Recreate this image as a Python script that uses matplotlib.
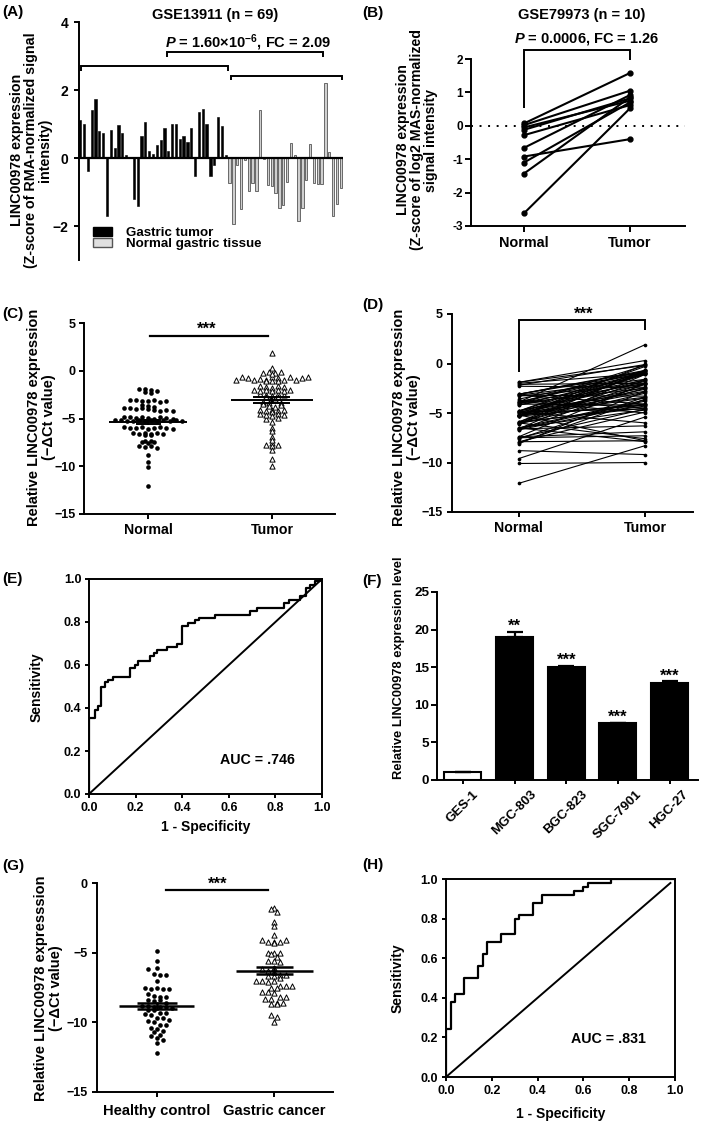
import numpy as np
import matplotlib
matplotlib.use('Agg')
import matplotlib.pyplot as plt
from matplotlib.patches import Patch
from matplotlib.ticker import FormatStrFormatter

plt.rcParams['font.family'] = ['Liberation Sans', 'DejaVu Sans']
plt.rcParams['font.weight'] = 'bold'
plt.rcParams['axes.labelweight'] = 'bold'
plt.rcParams['mathtext.fontset'] = 'custom'
plt.rcParams['mathtext.rm'] = 'Liberation Sans:bold'
plt.rcParams['mathtext.it'] = 'Liberation Sans:bold:italic'
plt.rcParams['mathtext.bf'] = 'Liberation Sans:bold'
plt.rcParams['axes.linewidth'] = 1.4
plt.rcParams['xtick.major.width'] = 1.4
plt.rcParams['ytick.major.width'] = 1.4
plt.rcParams['xtick.major.size'] = 3.5
plt.rcParams['ytick.major.size'] = 3.5
plt.rcParams['xtick.major.pad'] = 3
plt.rcParams['ytick.major.pad'] = 2.5

# ---------------- data ----------------
# (A) GSE13911 z-scores
a_tumor = [1.11, 1.00, -0.39, 1.40, 1.74, 0.79, 0.73, -1.72, 0.83, 0.29, 0.97, 0.75, 0.10,
           0.02, -1.22, -1.42, 0.66, 1.06, 0.20, 0.12, 0.37, 0.52, 0.87, 0.20,
           1.00, 1.00, 0.57, 0.64, 0.46, 0.87, -0.52, 1.34, 1.43, 1.00,
           -0.54, -0.20, 1.20, 0.95, 0.08]
a_normal = [-0.73, -1.93, -0.20, -1.50, -0.05, -0.98, -0.73, -0.98, 1.41, -0.02,
            -0.78, -0.83, -1.02, -1.47, -1.39, -0.72, 0.44, 0.09, -1.85, -1.46,
            -0.64, 0.41, -0.73, -0.75, -0.75, 2.20, 0.17, -1.70, -1.34, -0.88]

# (B) GSE79973 paired z-scores
b_normal = [0.07, 0.02, -0.05, -0.12, -0.28, -0.66, -0.92, -1.10, -1.43, -2.62]
b_tumor = [1.58, 1.05, 0.75, 0.82, 0.62, 0.92, -0.40, 0.70, 0.85, 0.52]

# (C)/(D) paired -dCt values (normal, tumor)
c_normal = [-1.9, -1.9, -2.0, -2.1,
            -2.2, -2.3,
            -3.1, -3.1, -3.2, -3.2, -3.1, -3.3, -3.2,
            -3.6, -3.7,
            -3.9, -3.9, -4.0, -3.9, -3.8, -4.0,
            -4.1, -4.2, -4.1, -4.2,
            -4.8, -4.8, -4.9, -4.8, -4.9, -5.0, -4.8, -4.9, -5.0,
            -5.2, -5.2, -5.3, -5.3, -5.2, -5.3, -5.2, -5.3, -5.2, -5.3, -5.2, -5.3,
            -5.9, -6.0, -6.0, -5.9, -6.1, -6.0, -5.9, -6.0, -6.1,
            -6.5, -6.6, -6.5, -6.6, -6.7, -6.5, -6.6, -6.7,
            -7.4, -7.5, -7.4, -7.6, -7.5,
            -7.9, -8.0, -7.9, -8.1,
            -8.8, -9.6, -10.1, -12.1]
c_tumor = [0.3, -0.2, -1.0, -2.0,
           -0.1, -2.4,
           -0.7, -0.8, -1.6, -4.1, -1.0, -2.1, -3.3,
           -0.9, -4.5,
           1.9, -1.0, -2.5, -0.7, -5.0, -1.7,
           -0.2, -2.0, -4.2, -1.1,
           -0.3, -1.8, -2.8, -0.8, -4.6, -1.0, -2.1, -6.0, -3.4,
           -0.7, -1.1, -2.9, -4.1, -1.6, -2.6, -7.8, -0.1, -3.5, -4.2, -2.4, -1.0,
           -0.8, -2.0, -4.3, -1.7, -3.0, -7.6, -4.5, -2.5, -0.7,
           -3.7, -1.1, -4.7, -6.3, -2.1, -7.9, -3.8, -4.1,
           -2.0, -4.6, -6.9, -3.4, -7.3,
           -4.9, -3.6, -7.8, -2.8,
           -9.2, -5.4, -10.0, -8.3]

# (E) ROC tissue
e_fpr = [0.0, 0.0, 0.024, 0.039, 0.053, 0.067, 0.082, 0.103, 0.178, 0.197, 0.21, 0.26, 0.28,
         0.29, 0.333, 0.376, 0.40, 0.426, 0.455, 0.47, 0.54, 0.69, 0.72, 0.835, 0.857,
         0.907, 0.932, 0.95, 0.97, 0.99, 1.0]
e_tpr = [0.0, 0.353, 0.39, 0.41, 0.50, 0.52, 0.53, 0.545, 0.585, 0.60, 0.62, 0.64, 0.655,
         0.67, 0.684, 0.698, 0.78, 0.795, 0.808, 0.82, 0.834, 0.85, 0.865, 0.888, 0.904,
         0.92, 0.96, 0.974, 0.99, 1.0, 1.0]
e_diag = [0.0, 1.0]

# (F) cell lines
f_cells = ['GES-1', 'MGC-803', 'BGC-823', 'SGC-7901', 'HGC-27']
f_values = [1.0, 19.0, 15.0, 7.55, 12.95]
f_err = [0.0, 0.7, 0.15, 0.06, 0.15]
f_stars = ['', '**', '***', '***', '***']

# (G) plasma
g_healthy = [-4.9, -5.6, -6.1, -6.2, -6.5, -6.6, -6.6, -7.0, -7.5, -7.6, -7.5, -7.6, -7.6,
             -8.0, -8.1, -8.2, -8.2, -8.4, -8.5, -8.4, -8.6, -8.8, -8.8, -8.9, -8.9, -8.9,
             -9.0, -9.1, -9.1, -9.3, -9.4, -9.3, -9.5, -9.7, -9.7, -9.8, -9.9, -10.0,
             -10.2, -10.2, -10.4, -10.5, -10.6, -10.7, -10.9, -11.0, -11.1, -11.3, -11.5, -12.2]
g_cancer = [-1.8, -1.9, -2.1, -2.8, -3.1, -3.7, -4.1, -4.2, -4.2, -4.3, -4.2, -4.1,
            -5.0, -5.0, -5.1, -5.0, -5.3, -5.6, -5.6, -5.7, -6.1, -6.2, -6.3, -6.4,
            -6.6, -6.7, -6.7, -6.6, -6.8, -7.0, -7.0, -7.1, -7.0, -7.4, -7.4, -7.5,
            -7.4, -7.5, -7.8, -7.8, -7.9, -8.2, -8.2, -8.3, -8.3, -8.6, -8.6, -8.7,
            -8.7, -9.5, -9.6, -10.0]

# (H) ROC plasma
h_fpr = [0.0, 0.0, 0.02, 0.04, 0.08, 0.14, 0.16, 0.18, 0.24, 0.30, 0.32, 0.38, 0.42,
         0.56, 0.60, 0.62, 0.72, 1.0]
h_tpr = [0.0, 0.24, 0.38, 0.42, 0.50, 0.56, 0.62, 0.68, 0.72, 0.80, 0.82, 0.88, 0.92,
         0.94, 0.96, 0.98, 1.0, 1.0]
h_diag = [0.0, 0.98]

# ---------------- helpers ----------------
W, H = 709, 1125
fig = plt.figure(figsize=(W / 100, H / 100), dpi=100)


def add_ax(l, t, r, b):
    return fig.add_axes([l / W, 1 - b / H, (r - l) / W, (b - t) / H])


def ftext(x, y, s, **kw):
    return fig.text(x / W, 1 - y / H, s, **kw)


def ylab(ax, s, xr, yc, fs, ls=1.0):
    ax.set_ylabel(s, fontsize=fs, linespacing=ls, fontweight='bold')
    ax.yaxis.set_label_coords(xr / W, 1 - yc / H, transform=fig.transFigure)


def bracket(ax, x0, x1, y, yl, yr, lw=1.4):
    ax.plot([x0, x0, x1, x1], [yl, y, y, yr], color='k', lw=lw, clip_on=False,
            solid_joinstyle='miter', solid_capstyle='butt')


def swarm_offsets(vals, dy, dx):
    vals = np.asarray(vals, float)
    bins = np.round(vals / dy).astype(int)
    off = np.zeros(len(vals))
    for b in np.unique(bins):
        idx = np.where(bins == b)[0]
        n = len(idx)
        order = np.arange(n) - (n - 1) / 2.0
        off[idx] = order * dx
    return off


def mean_sem(ax, x, vals, wm, ws, lw):
    v = np.asarray(vals, float)
    m = v.mean()
    s = v.std(ddof=1) / np.sqrt(len(v))
    ax.plot([x - wm, x + wm], [m, m], color='k', lw=lw, zorder=5, solid_capstyle='butt')
    ax.plot([x, x], [m - s, m + s], color='k', lw=lw, zorder=5)
    ax.plot([x - ws, x + ws], [m - s, m - s], color='k', lw=lw, zorder=5, solid_capstyle='butt')
    ax.plot([x - ws, x + ws], [m + s, m + s], color='k', lw=lw, zorder=5, solid_capstyle='butt')


def lshape(ax):
    ax.spines['top'].set_visible(False)
    ax.spines['right'].set_visible(False)


# ---------------- (A) ----------------
axA = add_ax(79, 22, 343, 260)
nT = len(a_tumor)
xa = np.arange(nT + len(a_normal))
axA.bar(xa[:nT], a_tumor, width=0.58, color='black', edgecolor='black', linewidth=0.4)
axA.bar(xa[nT:], a_normal, width=0.6, color='#cfcfcf', edgecolor='#555555', linewidth=0.6)
axA.set_xlim(-0.3, 68.6)
axA.set_ylim(-3, 4)
axA.axhline(0, color='black', lw=1.6)
for s in ['top', 'right', 'bottom']:
    axA.spines[s].set_visible(False)
axA.set_xticks([])
axA.set_yticks([4, 2, 0, -2])
axA.set_yticklabels(['4', '2', '0', '\u22122'])
axA.tick_params(axis='y', labelsize=10, length=3.6, pad=4.3)
bracket(axA, 0.2, 38.6, 2.70, 2.56, 2.56)
bracket(axA, 39.4, 68.4, 2.42, 2.28, 2.28)
bracket(axA, 22.7, 63.5, 3.12, 2.97, 2.97)
ylab(axA, 'LINC00978 expression\n(Z-score of RMA-normalized signal\nintensity)', 52, 150, 10.3, 1.0)
handles = [Patch(facecolor='black', edgecolor='black', label='Gastric tumor'),
           Patch(facecolor='#e0e0e0', edgecolor='#555555', label='Normal gastric tissue')]
axA.legend(handles=handles, loc='upper left', bbox_to_anchor=(93 / W, 1 - 227 / H),
           bbox_transform=fig.transFigure, frameon=False, fontsize=9.6, handlelength=1.45,
           handleheight=0.6, handletextpad=1.0, labelspacing=-0.05, borderpad=0, borderaxespad=0)
ftext(215, 15, 'GSE13911 (n = 69)', ha='center', va='center', fontsize=10.5)
ftext(248, 43, r'$\mathit{P}$ = 1.60×10$^{-6}$, FC = 2.09', ha='center', va='center', fontsize=10.5)

# ---------------- (B) ----------------
axB = add_ax(471, 59, 685, 226)
for n, t in zip(b_normal, b_tumor):
    axB.plot([0, 1], [n, t], '-o', color='k', lw=1.5, ms=3.5, clip_on=False)
axB.axhline(0, color='k', lw=1.4, ls=(0, (1, 3.4)))
axB.set_xlim(-0.5, 1.52)
axB.set_ylim(-3, 2)
lshape(axB)
axB.set_yticks([2, 1, 0, -1, -2, -3])
axB.set_yticklabels(['2', '1', '0', '-1', '-2', '-3'])
axB.set_xticks([0, 1])
axB.set_xticklabels(['Normal', 'Tumor'])
axB.tick_params(axis='y', labelsize=8.5, length=4, pad=2)
axB.tick_params(axis='x', labelsize=10.4, length=4)
bracket(axB, 0, 1, 2.27, 0.53, 1.98)
ylab(axB, 'LINC00978 expression\n(Z-score of log2 MAS-normalized\nsignal intensity', 438, 140, 10.2, 1.0)
ftext(582, 15, 'GSE79973 (n = 10)', ha='center', va='center', fontsize=10.5)
ftext(587, 39, r'$\mathit{P}$ = 0.0006, FC = 1.26', ha='center', va='center', fontsize=10.5)

# ---------------- (C) ----------------
axC = add_ax(84, 323, 335, 514)
oN = swarm_offsets(c_normal, 0.4, 0.049)
oT = swarm_offsets(c_tumor, 0.4, 0.049)
axC.scatter(0 + oN, c_normal, s=11, color='k', linewidths=0, zorder=3)
axC.scatter(1 + oT, c_tumor, s=14, marker='^', facecolors='white', edgecolors='k',
            linewidths=0.7, zorder=3)
mean_sem(axC, 0, c_normal, 0.315, 0.1, 1.4)
mean_sem(axC, 1, c_tumor, 0.33, 0.15, 1.4)
axC.set_xlim(-0.52, 1.51)
axC.set_ylim(-15, 5)
lshape(axC)
axC.set_yticks([5, 0, -5, -10, -15])
axC.set_xticks([0, 1])
axC.set_xticklabels(['Normal', 'Tumor'])
axC.tick_params(axis='y', labelsize=9)
axC.tick_params(axis='x', labelsize=10.2)
axC.plot([0.016, 0.97], [3.6, 3.6], color='k', lw=1.6, clip_on=False)
axC.text(0.476, 3.88, '***', ha='center', va='baseline', fontsize=12)
ylab(axC, 'Relative LINC00978 expression\n(\u2212\u0394Ct value)', 56, 417, 10.5, 1.05)

# ---------------- (D) ----------------
axD = add_ax(452, 314, 693, 512)
for n, t in zip(c_normal, c_tumor):
    axD.plot([0, 1], [n, t], color='k', lw=0.8)
axD.scatter(np.zeros(len(c_normal)), c_normal, s=7, color='k', linewidths=0, zorder=3)
axD.scatter(np.ones(len(c_tumor)), c_tumor, s=7, color='k', linewidths=0, zorder=3)
axD.set_xlim(-0.53, 1.38)
axD.set_ylim(-15, 5)
lshape(axD)
axD.set_yticks([5, 0, -5, -10, -15])
axD.set_xticks([0, 1])
axD.set_xticklabels(['Normal', 'Tumor'])
axD.tick_params(axis='y', labelsize=9, pad=3)
axD.tick_params(axis='x', labelsize=10.2)
bracket(axD, 0, 1, 4.4, -0.86, 3.4)
axD.text(0.51, 4.55, '***', ha='center', va='baseline', fontsize=12)
ylab(axD, 'Relative LINC00978 expression\n(\u2212\u0394Ct value)', 421, 417, 10.5, 1.05)

# ---------------- (E) ----------------
axE = add_ax(89, 579, 322, 794)
axE.plot(e_fpr, e_tpr, drawstyle='steps-post', color='k', lw=1.6)
axE.plot(e_diag, e_diag, color='k', lw=1.4)
axE.set_xlim(0, 1)
axE.set_ylim(0, 1)
ticks = [0, 0.2, 0.4, 0.6, 0.8, 1.0]
axE.set_xticks(ticks)
axE.set_yticks(ticks)
axE.xaxis.set_major_formatter(FormatStrFormatter('%.1f'))
axE.yaxis.set_major_formatter(FormatStrFormatter('%.1f'))
axE.tick_params(labelsize=9, length=3)
axE.text(0.723, 0.16, 'AUC = .746', ha='center', va='center', fontsize=10.3)
axE.set_xlabel('1 - Specificity', fontsize=10)
axE.xaxis.set_label_coords(206 / W, 1 - 820 / H, transform=fig.transFigure)
ylab(axE, 'Sensitivity', 44, 687, 10)

# ---------------- (F) ----------------
axF = add_ax(437, 592, 698, 780)
xf = np.arange(len(f_cells))
fcols = ['white'] + ['black'] * (len(f_cells) - 1)
axF.bar(xf, f_values, width=0.72, color=fcols, edgecolor='black', linewidth=1.5, zorder=2)
axF.errorbar(xf, f_values, yerr=[np.zeros(len(f_err)), f_err], fmt='none', ecolor='k',
             elinewidth=1.6, capsize=6, capthick=1.6, zorder=3)
for xi, v, e, st in zip(xf, f_values, f_err, f_stars):
    if st:
        axF.text(xi, v + e + 0.15, st, ha='center', va='baseline', fontsize=12)
axF.set_xlim(-0.5, 4.55)
axF.set_ylim(0, 25)
lshape(axF)
axF.set_yticks([0, 5, 10, 15, 20, 25])
axF.set_xticks(xf)
axF.set_xticklabels(f_cells, rotation=45)
axF.tick_params(axis='y', labelsize=9.7, length=4, pad=1.5)
axF.tick_params(axis='x', labelsize=9.5, length=3)
ylab(axF, 'Relative LINC00978 expression level', 405, 668, 9.3)

# ---------------- (G) ----------------
axG = add_ax(97, 883, 333, 1092)
oH = swarm_offsets(g_healthy, 0.4, 0.051)
oC = swarm_offsets(g_cancer, 0.4, 0.051)
axG.scatter(0 + oH, g_healthy, s=11, color='k', linewidths=0, zorder=3)
axG.scatter(1 + oC, g_cancer, s=14, marker='^', facecolors='white', edgecolors='k',
            linewidths=0.7, zorder=3)
mean_sem(axG, 0, g_healthy, 0.32, 0.17, 1.8)
mean_sem(axG, 1, g_cancer, 0.33, 0.16, 1.8)
axG.set_xlim(-0.51, 1.5)
axG.set_ylim(-15, 0)
lshape(axG)
axG.set_yticks([0, -5, -10, -15])
axG.set_xticks([0, 1])
axG.set_xticklabels(['Healthy control', 'Gastric cancer'])
axG.tick_params(axis='y', labelsize=9, pad=3)
axG.tick_params(axis='x', labelsize=10.6, pad=5)
axG.plot([0.08, 0.95], [-0.5, -0.5], color='k', lw=1.6, clip_on=False)
axG.text(0.52, -0.41, '***', ha='center', va='baseline', fontsize=12)
ylab(axG, 'Relative LINC00978 expresssion\n(\u2212\u0394Ct value)', 63, 988, 10.5, 1.05)

# ---------------- (H) ----------------
axH = add_ax(446, 879, 675, 1077)
axH.plot(h_fpr, h_tpr, drawstyle='steps-post', color='k', lw=1.6)
axH.plot(h_diag, h_diag, color='k', lw=1.4)
axH.set_xlim(0, 1)
axH.set_ylim(0, 1)
axH.set_xticks(ticks)
axH.set_yticks(ticks)
axH.xaxis.set_major_formatter(FormatStrFormatter('%.1f'))
axH.yaxis.set_major_formatter(FormatStrFormatter('%.1f'))
axH.tick_params(labelsize=9, length=3, pad=3)
axH.text(0.71, 0.19, 'AUC = .831', ha='center', va='center', fontsize=10.3)
axH.set_xlabel('1 - Specificity', fontsize=10)
axH.xaxis.set_label_coords(561 / W, 1 - 1107 / H, transform=fig.transFigure)
ylab(axH, 'Sensitivity', 405, 978, 10)

# ---------------- panel letters ----------------
for lab, x, y in [('(A)', 2, 12), ('(B)', 362, 13), ('(C)', 2, 314), ('(D)', 362, 305),
                  ('(E)', 2, 579), ('(F)', 362, 581), ('(G)', 2, 866), ('(H)', 362, 865)]:
    ftext(x, y, lab, ha='left', va='center', fontsize=11)

fig.savefig('out.png', dpi=100)
